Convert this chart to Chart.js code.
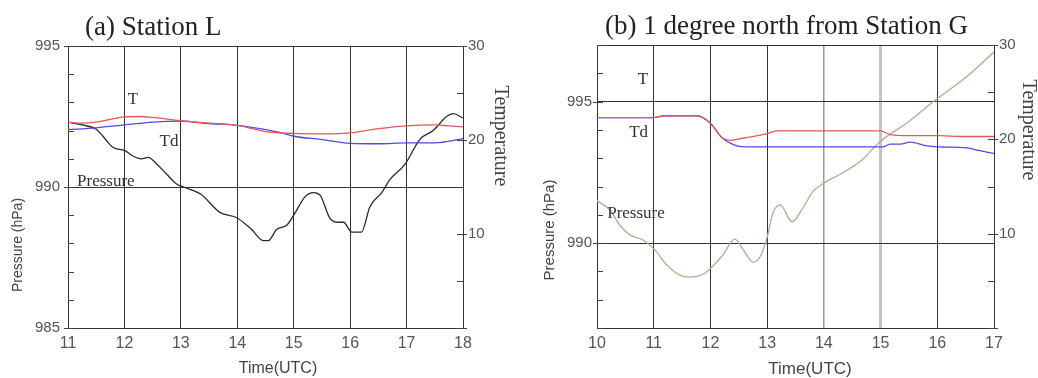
<!DOCTYPE html>
<html><head><meta charset="utf-8">
<script src="https://cdn.jsdelivr.net/npm/chart.js@4.4.1/dist/chart.umd.min.js"></script>
<style>
html,body{margin:0;padding:0;background:#fff;}
#wrap{position:relative;width:1038px;height:378px;overflow:hidden;background:#fff;}
.panel{position:absolute;top:0;width:519px;height:378px;}
</style></head><body>
<div id="wrap">
<div class="panel" style="left:0"><canvas id="ca"></canvas></div>
<div class="panel" style="left:519px"><canvas id="cb"></canvas></div>
</div>
<script>
// ---------- Panel (a) Station L ----------
const timeP_A = [11.0, 11.25, 11.5, 11.62, 11.8, 12.0, 12.15, 12.3, 12.42, 12.58, 12.75, 12.93, 13.05, 13.35, 13.69, 14.0, 14.25, 14.46, 14.55, 14.7, 14.88, 15.0, 15.2, 15.35, 15.47, 15.64, 15.79, 15.88, 16.03, 16.2, 16.35, 16.56, 16.7, 16.97, 17.24, 17.47, 17.71, 17.83, 18.0];
const pres_A  = [992.3, 992.2, 992.05, 991.8, 991.4, 991.3, 991.1, 991.0, 991.05, 990.8, 990.45, 990.1, 990.0, 989.75, 989.1, 988.9, 988.5, 988.1, 988.1, 988.5, 988.65, 989.0, 989.65, 989.8, 989.7, 988.9, 988.75, 988.75, 988.4, 988.4, 989.3, 989.8, 990.25, 990.8, 991.7, 992.0, 992.5, 992.6, 992.45];
const timeT_A = [11.0, 11.25, 11.5, 12.0, 12.3, 12.5, 13.0, 13.5, 14.0, 14.5, 15.0, 15.5, 16.0, 16.5, 17.0, 17.5, 17.75, 18.0];
const temp_A  = [21.9, 21.8, 21.9, 22.45, 22.5, 22.4, 22.05, 21.8, 21.55, 20.9, 20.7, 20.65, 20.75, 21.2, 21.5, 21.6, 21.5, 21.4];
const timeD_A = [11.0, 11.5, 12.0, 12.5, 13.0, 13.5, 14.0, 14.4, 14.75, 15.0, 15.5, 16.0, 16.5, 17.0, 17.5, 18.0];
const dew_A   = [21.1, 21.3, 21.6, 21.9, 22.0, 21.75, 21.55, 21.2, 20.8, 20.4, 20.05, 19.65, 19.6, 19.7, 19.7, 20.15];

// ---------- Panel (b) 1 degree north from Station G ----------
const timeP_B = [10.0, 10.23, 10.4, 10.58, 10.81, 11.02, 11.23, 11.46, 11.64, 11.87, 12.03, 12.22, 12.43, 12.58, 12.75, 12.87, 13.0, 13.1, 13.23, 13.44, 13.63, 13.8, 14.0, 14.3, 14.65, 15.0, 15.5, 15.93, 16.5, 17.0];
const pres_B  = [991.5, 991.17, 990.64, 990.29, 990.11, 989.76, 989.23, 988.87, 988.8, 988.9, 989.16, 989.58, 990.14, 989.76, 989.33, 989.5, 990.2, 991.06, 991.35, 990.75, 991.24, 991.8, 992.12, 992.45, 992.9, 993.6, 994.3, 995.0, 995.85, 996.75];
const timeT_B = [10.0, 11.0, 11.2, 11.76, 12.0, 12.2, 12.35, 12.47, 12.65, 13.0, 13.17, 14.0, 15.0, 15.17, 15.5, 16.05, 16.4, 17.0];
const temp_B  = [22.3, 22.3, 22.5, 22.5, 21.7, 20.2, 19.9, 20.0, 20.2, 20.6, 20.9, 20.9, 20.9, 20.5, 20.4, 20.4, 20.3, 20.3];
const timeD_B = [10.0, 11.0, 11.2, 11.76, 12.0, 12.2, 12.35, 12.47, 12.65, 13.0, 14.0, 15.04, 15.17, 15.35, 15.52, 15.82, 16.05, 16.52, 16.75, 17.0];
const dew_B   = [22.3, 22.3, 22.5, 22.5, 21.7, 20.2, 19.6, 19.3, 19.2, 19.2, 19.2, 19.2, 19.5, 19.5, 19.7, 19.3, 19.2, 19.1, 18.8, 18.5];

// ---------- labels ----------
const titleA = '(a) Station L';
const titleB = '(b) 1 degree north from Station G';
const xTitle = 'Time(UTC)';
const yTitle = 'Pressure (hPa)';
const y2Title = 'Temperature';

const pts = (xs, ys) => xs.map((x, i) => ({x, y: ys[i]}));

const SERIF = "'Liberation Serif','Times New Roman',serif";
const SANS = "'Liberation Sans',Arial,sans-serif";

const decor = {
  id: 'decor',
  afterDraw(chart, args, o) {
    const ctx = chart.ctx, ca = chart.chartArea;
    const x = chart.scales.x, y = chart.scales.y, y2 = chart.scales.y2;
    ctx.save();
    ctx.strokeStyle = '#444'; ctx.lineWidth = 1;
    ctx.beginPath();
    y.ticks.forEach(t => {
      const py = Math.round(y.getPixelForValue(t.value)) + 0.5;
      ctx.moveTo(ca.left, py); ctx.lineTo(ca.left + 6, py);
      if (t.value % 5 === 0) { ctx.moveTo(ca.left - 4, py); ctx.lineTo(ca.left, py); }
    });
    y2.ticks.forEach(t => {
      const py = Math.round(y2.getPixelForValue(t.value)) + 0.5;
      ctx.moveTo(ca.right - 6, py); ctx.lineTo(ca.right, py);
      if (t.value % 10 === 0) { ctx.moveTo(ca.right, py); ctx.lineTo(ca.right + 4, py); }
    });
    ctx.stroke();
    o.texts.forEach(t => {
      ctx.font = t.font; ctx.fillStyle = t.color || '#333';
      ctx.textAlign = t.align || 'center'; ctx.textBaseline = 'middle';
      let px = t.px, py = t.py;
      if (t.dx !== undefined) px = x.getPixelForValue(t.dx);
      if (t.dy !== undefined) py = chart.scales[t.axis].getPixelForValue(t.dy);
      ctx.save(); ctx.translate(px, py); if (t.rot) ctx.rotate(t.rot);
      ctx.fillText(t.text, 0, 0); ctx.restore();
    });
    ctx.restore();
  }
};

function makeChart(id, cfg) {
  const gridX = (c) => {
    const v = c.tick && c.tick.value;
    if (cfg.softGrid && cfg.softGrid[v]) return cfg.softGrid[v][0];
    return '#333';
  };
  const gridXW = (c) => {
    const v = c.tick && c.tick.value;
    if (cfg.softGrid && cfg.softGrid[v]) return cfg.softGrid[v][1];
    return 1;
  };
  return new Chart(document.getElementById(id), {
    type: 'line',
    data: {
      datasets: [
        {label: 'T', data: pts(cfg.tT, cfg.T), yAxisID: 'y2', borderColor: '#e25a5a', borderWidth: 1.3, pointRadius: 0, cubicInterpolationMode: 'monotone'},
        {label: 'Td', data: pts(cfg.tD, cfg.D), yAxisID: 'y2', borderColor: '#4d4de0', borderWidth: 1.3, pointRadius: 0, cubicInterpolationMode: 'monotone'},
        {label: 'Pressure', data: pts(cfg.tP, cfg.P), yAxisID: 'y', borderColor: cfg.pColor, borderWidth: 1.3, pointRadius: 0, cubicInterpolationMode: 'monotone'}
      ]
    },
    options: {
      responsive: true, maintainAspectRatio: false, animation: false, devicePixelRatio: 1,
      layout: {padding: {top: cfg.top, left: 0, right: 0, bottom: 0}},
      plugins: {legend: {display: false}, tooltip: {enabled: false}, decor: {texts: cfg.texts}},
      scales: {
        x: {type: 'linear', min: cfg.xmin, max: cfg.xmax,
            ticks: {stepSize: 1, autoSkip: false, maxRotation: 0, padding: 6, color: '#555', font: {family: SANS, size: 16}},
            grid: {drawTicks: false, color: gridX, lineWidth: gridXW},
            border: {color: '#333', width: 1},
            afterFit(s) { s.height = 50; }},
        y: {type: 'linear', position: 'left', min: cfg.ymin, max: cfg.ymax,
            ticks: {stepSize: 1, autoSkip: false, padding: cfg.ypad, color: '#555', font: {family: SANS, size: 15},
                    callback: v => (v % 5 === 0 ? String(v) : '')},
            grid: {drawTicks: false, color: c => (c.tick && (c.tick.value % 5 === 0 || c.tick.value === cfg.ymax) ? '#333' : 'rgba(0,0,0,0)')},
            border: {color: '#333', width: 1},
            afterFit(s) { s.width = cfg.yw; }},
        y2: {type: 'linear', position: 'right', min: 0, max: 30,
            ticks: {stepSize: 5, autoSkip: false, padding: 5, color: '#555', font: {family: SANS, size: 15},
                    callback: v => (v % 10 === 0 && v > 0 ? String(v) : '')},
            grid: {drawTicks: false, drawOnChartArea: false},
            border: {color: '#333', width: 1},
            afterFit(s) { s.width = cfg.y2w; }}
      }
    },
    plugins: [decor]
  });
}

makeChart('ca', {
  tP: timeP_A, P: pres_A, tT: timeT_A, T: temp_A, tD: timeD_A, D: dew_A,
  pColor: '#2a2a2a', xmin: 11, xmax: 18, ymin: 985, ymax: 995,
  top: 46, yw: 68, y2w: 56, ypad: 8,
  texts: [
    {text: titleA, px: 85, py: 28, align: 'left', font: `27px ${SERIF}`, color: '#222'},
    {text: 'T', dx: 12.15, dy: 24.3, axis: 'y2', font: `17px ${SERIF}`, color: '#333'},
    {text: 'Td', dx: 12.79, dy: 19.8, axis: 'y2', font: `17px ${SERIF}`, color: '#333'},
    {text: 'Pressure', dx: 11.16, dy: 990.2, axis: 'y', align: 'left', font: `17px ${SERIF}`, color: '#333'},
    {text: xTitle, px: 278, py: 369, font: `16px ${SANS}`, color: '#444'},
    {text: yTitle, px: 18, py: 245, rot: -Math.PI / 2, font: `14px ${SANS}`, color: '#444'},
    {text: y2Title, px: 500, py: 136, rot: Math.PI / 2, font: `20px ${SERIF}`, color: '#444'}
  ]
});

makeChart('cb', {
  tP: timeP_B, P: pres_B, tT: timeT_B, T: temp_B, tD: timeD_B, D: dew_B,
  pColor: '#bba690', xmin: 10, xmax: 17, ymin: 987, ymax: 997,
  top: 45, yw: 78, y2w: 44, ypad: 5,
  softGrid: {14: ['#9a9a9a', 1.5], 15: ['#c4c4c4', 3]},
  texts: [
    {text: titleB, px: 86, py: 27, align: 'left', font: `27px ${SERIF}`, color: '#222'},
    {text: 'T', dx: 10.9, dy: 26.3, axis: 'y2', align: 'right', font: `17px ${SERIF}`, color: '#333'},
    {text: 'Td', dx: 10.9, dy: 20.7, axis: 'y2', align: 'right', font: `17px ${SERIF}`, color: '#333'},
    {text: 'Pressure', dx: 10.18, dy: 991.06, axis: 'y', align: 'left', font: `17px ${SERIF}`, color: '#333'},
    {text: xTitle, px: 291, py: 369, font: `17px ${SANS}`, color: '#444'},
    {text: yTitle, px: 31, py: 230, rot: -Math.PI / 2, font: `15px ${SANS}`, color: '#444'},
    {text: y2Title, px: 509, py: 130, rot: Math.PI / 2, font: `20px ${SERIF}`, color: '#444'}
  ]
});
</script>
</body></html>
